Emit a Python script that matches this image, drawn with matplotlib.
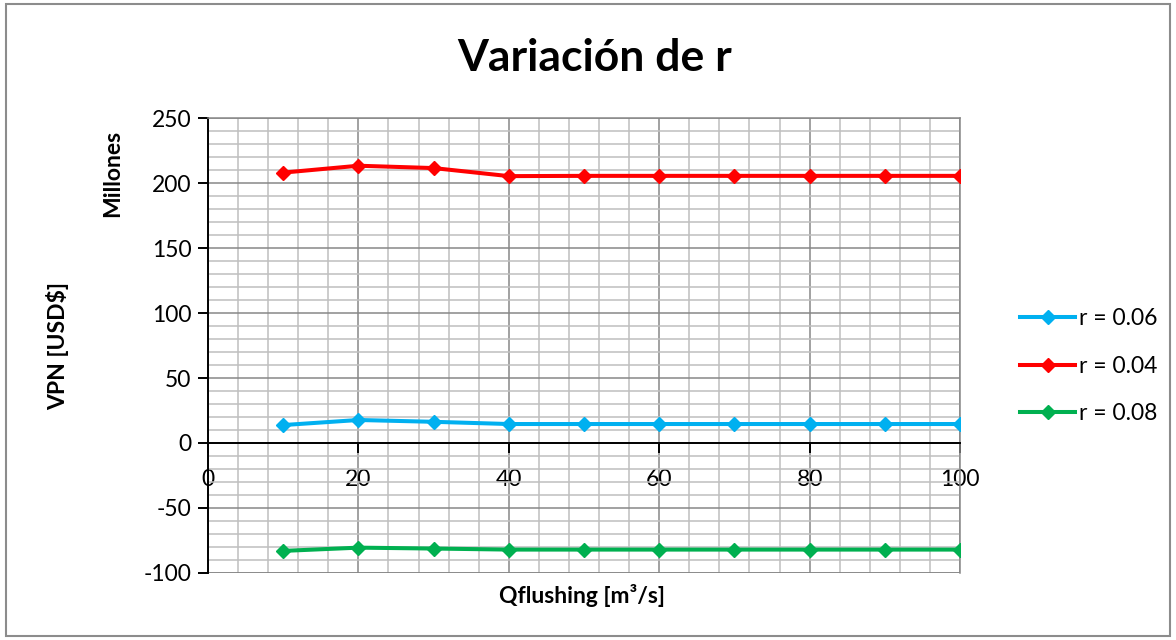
# Variación de r - VPN vs Qflushing
import matplotlib.pyplot as plt
from matplotlib.patches import Rectangle
from matplotlib.ticker import MultipleLocator

Q_FLUSHING = [10, 20, 30, 40, 50, 60, 70, 80, 90, 100]
VPN_R006 = [13.8, 17.7, 16.3, 14.6, 14.6, 14.6, 14.6, 14.6, 14.6, 14.6]
VPN_R004 = [208.0, 213.3, 211.5, 205.3, 205.5, 205.5, 205.5, 205.5, 205.5, 205.5]
VPN_R008 = [-83.0, -80.5, -81.2, -82.0, -82.0, -82.0, -82.0, -82.0, -82.0, -82.0]

SERIES = [
    ("r = 0.06", VPN_R006, "#00B0F0"),
    ("r = 0.04", VPN_R004, "#FF0000"),
    ("r = 0.08", VPN_R008, "#00B050"),
]

plt.rcParams["font.family"] = ["Lato", "DejaVu Sans"]
plt.rcParams["axes.unicode_minus"] = False

fig = plt.figure(figsize=(11.76, 6.4), dpi=100)
fig.patches.append(Rectangle((0.005, 0.006), 0.99, 0.988, transform=fig.transFigure,
                             fill=False, edgecolor="#8c8c8c", linewidth=1.5))

ax = fig.add_axes([0.1769, 0.1047, 0.6394, 0.7109])

for label, values, color in SERIES:
    ax.plot(Q_FLUSHING, values, color=color, linewidth=2.9, marker="D",
            markersize=7.5, label=label, zorder=3)

ax.set_xlim(0, 100)
ax.set_ylim(-100, 250)
ax.xaxis.set_major_locator(MultipleLocator(20))
ax.xaxis.set_minor_locator(MultipleLocator(4))
ax.yaxis.set_major_locator(MultipleLocator(50))
ax.yaxis.set_minor_locator(MultipleLocator(10))

ax.grid(which="minor", color="#bfbfbf", linewidth=1.1, zorder=0)
ax.grid(which="major", color="#878787", linewidth=1.1, zorder=0)
ax.set_axisbelow(True)

ax.spines["bottom"].set_position(("data", 0))
ax.spines["bottom"].set_color("black")
ax.spines["bottom"].set_linewidth(1.4)
ax.spines["left"].set_color("black")
ax.spines["left"].set_linewidth(1.4)
for side in ("top", "right"):
    ax.spines[side].set_color("#878787")
    ax.spines[side].set_linewidth(1.1)

ax.tick_params(which="major", direction="out", length=7, width=1.4, labelsize=16.5,
               color="black")
ax.tick_params(which="minor", length=0)
ax.tick_params(axis="x", pad=12)
ax.tick_params(axis="y", pad=5)

# bottom gray border of plot area at -100
ax.axhline(-100, color="#878787", linewidth=1.1, zorder=1)

fig.text(0.506, 0.909, "Variación de r", ha="center", va="center",
         fontsize=32, fontweight="bold")
fig.text(0.049, 0.459, "VPN [USD$]", rotation=90, ha="center", va="center",
         fontsize=16.5, fontweight="bold")
fig.text(0.096, 0.729, "Millones", rotation=90, ha="center", va="center",
         fontsize=16.5, fontweight="bold")
fig.text(0.495, 0.069, "Qflushing [m³/s]", ha="center", va="center",
         fontsize=16.5, fontweight="bold")

fig.legend(loc="center left", bbox_to_anchor=(0.85, 0.428), frameon=False,
           fontsize=16.5, handlelength=2.4, handletextpad=0.15, labelspacing=1.15)

fig.savefig("out.png", dpi=100)
